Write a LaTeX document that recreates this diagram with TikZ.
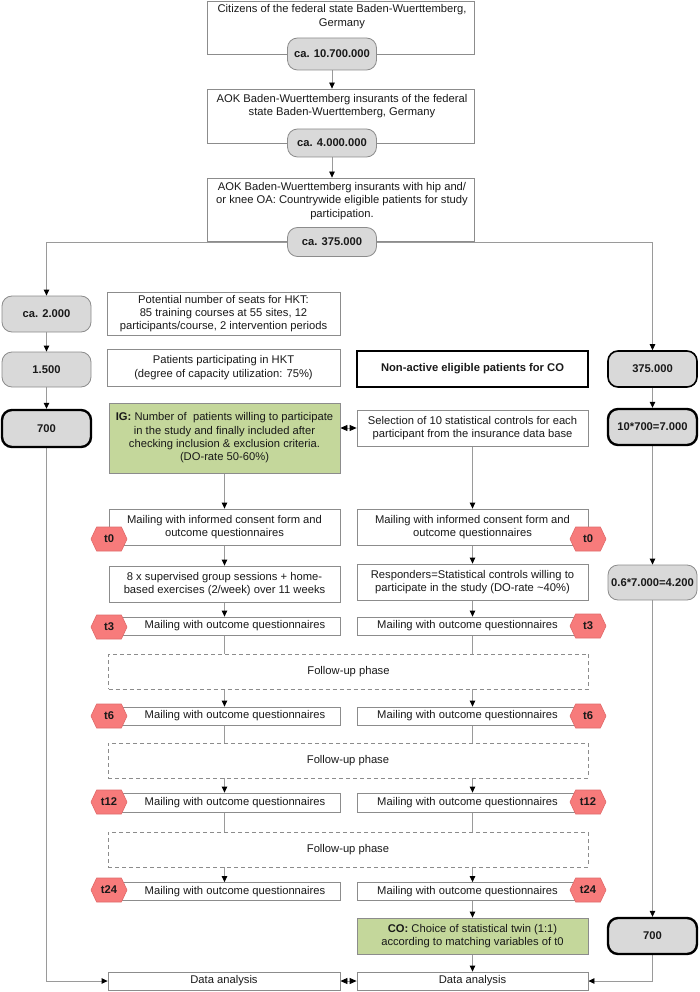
\documentclass[tikz,border=0pt]{standalone}
\usepackage{fontspec}
\setmainfont{Liberation Sans}
\usetikzlibrary{arrows.meta,shapes.symbols,backgrounds}
\definecolor{boxline}{HTML}{8C8C8C}
\definecolor{conn}{HTML}{9A9A9A}
\definecolor{pillfill}{HTML}{D9D9D9}
\definecolor{greenfill}{HTML}{C4D79B}
\definecolor{hexfill}{HTML}{F77B7B}
\definecolor{hexline}{HTML}{E06A6A}
\begin{document}
\begin{tikzpicture}[x=1pt,y=-1pt,
  every node/.style={font=\fontsize{11.2}{13.3}\selectfont, text=black!90, inner sep=0pt, align=center},
  bfont/.style={font=\fontsize{11.2}{13.3}\selectfont\bfseries},
  box/.style={draw=boxline, line width=0.8pt, fill=white},
  greenbox/.style={draw=boxline, line width=0.8pt, fill=greenfill},
  dashbox/.style={draw=boxline, line width=0.8pt, dashed, dash pattern=on 4pt off 3pt, fill=white},
  pill/.style={draw=boxline, line width=0.8pt, fill=pillfill, rounded corners=10pt, bfont, minimum width=89pt},
  thickpill/.style={pill, draw=black, line width=2.4pt},
  hex/.style={shape=signal, signal to=east and west, signal pointer angle=130, fill=hexfill, draw=hexline, line width=0.6pt, minimum width=36pt, minimum height=24pt, bfont},
  arr/.style={draw=conn, line width=0.8pt, -{Triangle[length=6pt,width=5.5pt,color=black]}},
  ln/.style={draw=conn, line width=0.8pt},
  dbl/.style={draw=conn, line width=0.8pt, {Triangle[length=7pt,width=6pt,color=black]}-{Triangle[length=7pt,width=6pt,color=black]}}
]
\useasboundingbox (0,0) rectangle (699,992);

% top chain
\node[box, minimum width=267pt, minimum height=53pt] (b1) at (340.5,27.5) {};
\node (b1t) at (342,16.5) {Citizens of the federal state Baden-Wuerttemberg,\\Germany};
\node[pill, minimum height=32pt] (p1) at (332,54) {ca. 10.700.000};

\node[box, minimum width=267pt, minimum height=54pt] (b2) at (340.5,116) {};
\node (b2t) at (342,106) {AOK Baden-Wuerttemberg insurants of the federal\\state Baden-Wuerttemberg, Germany};
\node[pill, minimum height=28pt] (p2) at (332,143) {ca. 4.000.000};

\node[box, minimum width=267pt, minimum height=63pt] (b3) at (340.5,209.5) {};
\node (b3t) at (342,201) {AOK Baden-Wuerttemberg insurants with hip and/\\or knee OA: Countrywide eligible patients for study\\participation.};
\node[pill, minimum height=29pt] (p3) at (332,242) {ca. 375.000};

% left column
\node[pill, minimum height=36pt] (c1) at (46.5,314) {ca. 2.000};
\node[pill, minimum height=35pt] (c2) at (46.5,369.5) {1.500};
\node[thickpill, minimum height=37pt] (c3) at (46.5,428.5) {700};

% HKT boxes
\node[box, minimum width=233pt, minimum height=43pt] (h1) at (223.5,313.5) {Potential number of seats for HKT:\\85 training courses at 55 sites, 12\\participants/course, 2 intervention periods};
\node[box, minimum width=233pt, minimum height=37pt] (h2) at (223.5,367.5) {Patients participating in HKT\\(degree of capacity utilization: 75\%)};
\node[greenbox, minimum width=231pt, minimum height=70pt] (ig) at (224.5,438) {\textbf{IG:} Number of\ \ patients willing to participate\\in the study and finally included after\\checking inclusion \& exclusion criteria.\\(DO-rate 50-60\%)};

% CO boxes
\node[box, draw=black, line width=1.6pt, minimum width=231pt, minimum height=36pt, bfont] (n1) at (472.5,369) {Non-active eligible patients for CO};
\node[box, minimum width=231pt, minimum height=36pt] (s1) at (472.5,428) {Selection of 10 statistical controls for each\\participant from the insurance data base};

% right column
\node[pill, draw=black, line width=1.6pt, minimum height=36pt] (r1) at (652.5,369) {375.000};
\node[thickpill, minimum height=36pt] (r2) at (652.5,427) {10*700=7.000};
\node[pill, minimum height=35pt] (r3) at (652.5,582.5) {0.6*7.000=4.200};
\node[thickpill, minimum height=36pt] (r4) at (652.5,936) {700};

% IG column
\node[box, minimum width=231pt, minimum height=36pt] (ml0) at (224.5,527) {Mailing with informed consent form and\\outcome questionnaires};
\node[box, minimum width=231pt, minimum height=36pt] (ml1) at (224.5,584) {8 x supervised group sessions + home-\\based exercises (2/week) over 11 weeks};
\node[box, minimum width=231pt, minimum height=18pt] (ml3) at (224.5,626) {\hspace*{21pt}Mailing with outcome questionnaires};
\node[box, minimum width=231pt, minimum height=18pt] (ml6) at (224.5,716) {\hspace*{21pt}Mailing with outcome questionnaires};
\node[box, minimum width=231pt, minimum height=19pt] (ml12) at (224.5,802.5) {\hspace*{21pt}Mailing with outcome questionnaires};
\node[box, minimum width=231pt, minimum height=18pt] (ml24) at (224.5,891.5) {\hspace*{21pt}Mailing with outcome questionnaires};
\node[box, minimum width=232pt, minimum height=18pt] (da1) at (224,981) {Data analysis};

% CO column
\node[box, minimum width=231pt, minimum height=36pt] (mr0) at (472.5,527) {Mailing with informed consent form and\\outcome questionnaires};
\node[box, minimum width=231pt, minimum height=36pt] (mr1) at (472.5,582) {Responders=Statistical controls willing to\\participate in the study (DO-rate \textasciitilde40\%)};
\node[box, minimum width=231pt, minimum height=18pt] (mr3) at (472.5,626) {Mailing with outcome questionnaires\hspace*{10pt}};
\node[box, minimum width=231pt, minimum height=18pt] (mr6) at (472.5,716) {Mailing with outcome questionnaires\hspace*{10pt}};
\node[box, minimum width=231pt, minimum height=19pt] (mr12) at (472.5,802.5) {Mailing with outcome questionnaires\hspace*{10pt}};
\node[box, minimum width=231pt, minimum height=18pt] (mr24) at (472.5,891.5) {Mailing with outcome questionnaires\hspace*{10pt}};
\node[greenbox, minimum width=231pt, minimum height=36pt] (co) at (472.5,936) {\textbf{CO:} Choice of statistical twin (1:1)\\according to matching variables of t0};
\node[box, minimum width=231pt, minimum height=18pt] (da2) at (472.5,981) {Data analysis};

% follow-up phases
\node[dashbox, minimum width=480pt, minimum height=35pt] (fu1) at (348.5,671.5) {Follow-up phase};
\node[dashbox, minimum width=480pt, minimum height=35pt] (fu2) at (348,760.5) {Follow-up phase};
\node[dashbox, minimum width=480pt, minimum height=35pt] (fu3) at (348,849.5) {Follow-up phase};

% time tags
\node[hex] (tl0) at (109,539) {t0};
\node[hex] (tl3) at (109,627) {t3};
\node[hex] (tl6) at (109,716) {t6};
\node[hex] (tl12) at (109,802) {t12};
\node[hex] (tl24) at (109,890) {t24};
\node[hex] (tr0) at (588,539) {t0};
\node[hex] (tr3) at (588,626) {t3};
\node[hex] (tr6) at (588,716) {t6};
\node[hex] (tr12) at (588,802) {t12};
\node[hex] (tr24) at (588,890) {t24};

\begin{scope}[on background layer]
\draw[arr] (p1.south) -- (p1.south |- b2.north);
\draw[arr] (p2.south) -- (p2.south |- b3.north);
\draw[arr] (p3.center) -| (c1.north);
\draw[arr] (p3.center) -| (r1.north);
\draw[arr] (c1.south) -- (c2.north);
\draw[arr] (c2.south) -- (c3.north);
\draw[arr] (c3.south) |- (da1.west);
\draw[arr] (r1.south) -- (r2.north);
\draw[arr] (r2.south) -- (r3.north);
\draw[arr] (r3.south) -- (r4.north);
\draw[arr] (r4.south) |- (da2.east);
\draw[dbl] (s1.west -| ig.east) -- (s1.west);
\draw[dbl] (da1.east) -- (da2.west);
% IG column
\draw[arr] (ig.south) -- (ml0.north);
\draw[arr] (ml0.south) -- (ml1.north);
\draw[arr] (ml1.south) -- (ml3.north);
\draw[ln] (ml3.south) -- (ml3.south |- fu1.north);
\draw[arr] (ml6.north |- fu1.south) -- (ml6.north);
\draw[ln] (ml6.south) -- (ml6.south |- fu2.north);
\draw[arr] (ml12.north |- fu2.south) -- (ml12.north);
\draw[ln] (ml12.south) -- (ml12.south |- fu3.north);
\draw[arr] (ml24.north |- fu3.south) -- (ml24.north);
% CO column
\draw[arr] (s1.south) -- (mr0.north);
\draw[arr] (mr0.south) -- (mr1.north);
\draw[arr] (mr1.south) -- (mr3.north);
\draw[ln] (mr3.south) -- (mr3.south |- fu1.north);
\draw[arr] (mr6.north |- fu1.south) -- (mr6.north);
\draw[ln] (mr6.south) -- (mr6.south |- fu2.north);
\draw[arr] (mr12.north |- fu2.south) -- (mr12.north);
\draw[ln] (mr12.south) -- (mr12.south |- fu3.north);
\draw[arr] (mr24.north |- fu3.south) -- (mr24.north);
\draw[arr] (mr24.south) -- (co.north);
\draw[arr] (co.south) -- (da2.north);
\end{scope}
\end{tikzpicture}
\end{document}
